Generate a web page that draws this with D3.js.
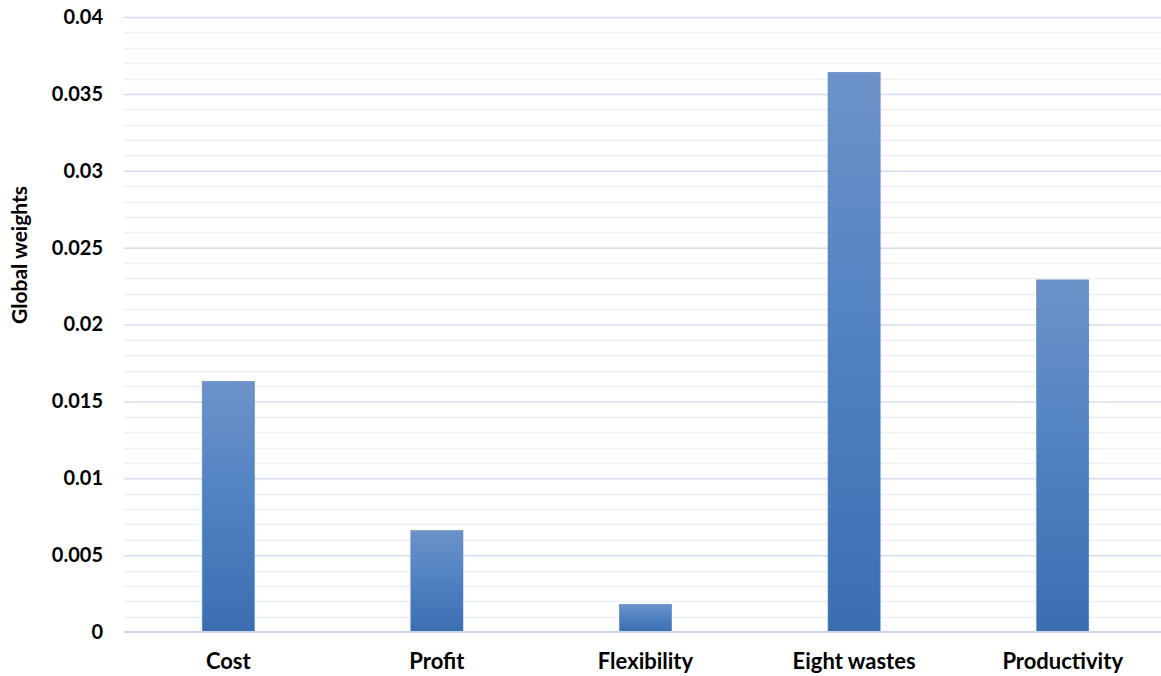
<!DOCTYPE html>
<html>
<head>
<meta charset="utf-8">
<script src="https://cdn.jsdelivr.net/npm/d3@7"></script>
<style>
  html, body { margin: 0; padding: 0; background: #fff; }
  svg text { font-family: Lato, "Open Sans", sans-serif; font-weight: 700; fill: #000; }
</style>
</head>
<body>
<svg id="chart" width="1161" height="676"></svg>
<script>
// Global weights of the criteria
const categories = ["Cost", "Profit", "Flexibility", "Eight wastes", "Productivity"];
const weights = [0.0163, 0.0066, 0.0018, 0.0364, 0.0229];
const yTicks = [0, 0.005, 0.01, 0.015, 0.02, 0.025, 0.03, 0.035, 0.04];
const yTickLabels = ["0", "0.005", "0.01", "0.015", "0.02", "0.025", "0.03", "0.035", "0.04"];
const yMinorTicks = d3.range(0, 41).map(i => i / 1000);

const svg = d3.select("#chart");
const plotLeft = 124, plotRight = 1167, plotTop = 17, plotBottom = 632, clipRight = 1161;
const fontStack = "Lato, 'Open Sans', sans-serif";

const x = d3.scaleBand().domain(categories).range([plotLeft, plotRight]).paddingInner(0.75).paddingOuter(0.375);
const y = d3.scaleLinear().domain([0, 0.04]).range([plotBottom, plotTop]);

// gradient fill for bars
const defs = svg.append("defs");
const grad = defs.append("linearGradient").attr("id", "barFill")
  .attr("x1", 0).attr("y1", 0).attr("x2", 0).attr("y2", 1);
grad.append("stop").attr("offset", "0%").attr("stop-color", "#6d92c9");
grad.append("stop").attr("offset", "50%").attr("stop-color", "#4f81c2");
grad.append("stop").attr("offset", "100%").attr("stop-color", "#3b6eb0");

// minor gridlines
svg.append("g").selectAll("line").data(yMinorTicks.filter(v => Math.round(v * 1000) % 5 !== 0))
  .join("line")
  .attr("x1", plotLeft).attr("x2", clipRight)
  .attr("y1", d => Math.round(y(d)) + 0.5).attr("y2", d => Math.round(y(d)) + 0.5)
  .attr("stroke", "#ebeff6").attr("stroke-width", 1.5);

// major gridlines via axis
const yAxis = d3.axisLeft(y).tickValues(yTicks).tickSize(-(clipRight - plotLeft)).tickFormat((d, i) => yTickLabels[i]);
const gy = svg.append("g").attr("transform", `translate(${plotLeft},0)`).call(yAxis);
gy.select(".domain").remove();
gy.selectAll(".tick line").attr("stroke", "#d4deed").attr("stroke-width", 1.5);
gy.selectAll(".tick text").attr("x", -21).attr("font-size", 20).attr("fill", "#000")
  .style("font-family", fontStack).style("font-weight", 700);
gy.selectAll(".tick").filter(d => d === 0).select("line").remove();

// bars
svg.append("g").selectAll("rect").data(categories.map((c, i) => ({ c, v: weights[i] })))
  .join("rect")
  .attr("x", d => x(d.c))
  .attr("width", x.bandwidth())
  .attr("y", d => y(d.v))
  .attr("height", d => y(0) - y(d.v))
  .attr("fill", "url(#barFill)")
  .attr("stroke", "#5b86c2").attr("stroke-width", 0.6);

// x axis baseline and labels
const xAxis = d3.axisBottom(x).tickSize(0).tickPadding(21);
const gx = svg.append("g").attr("transform", `translate(0,${plotBottom})`).call(xAxis);
gx.select(".domain").attr("stroke", "#c9d6ea").attr("stroke-width", 2).attr("d", `M${plotLeft},0H${clipRight}`);
gx.selectAll(".tick text").attr("font-size", 22).attr("fill", "#000")
  .style("font-family", fontStack).style("font-weight", 700);

// y axis title
svg.append("text")
  .attr("transform", "translate(27,255) rotate(-90)")
  .attr("text-anchor", "middle")
  .attr("font-size", 21)
  .text("Global weights");
</script>
</body>
</html>
